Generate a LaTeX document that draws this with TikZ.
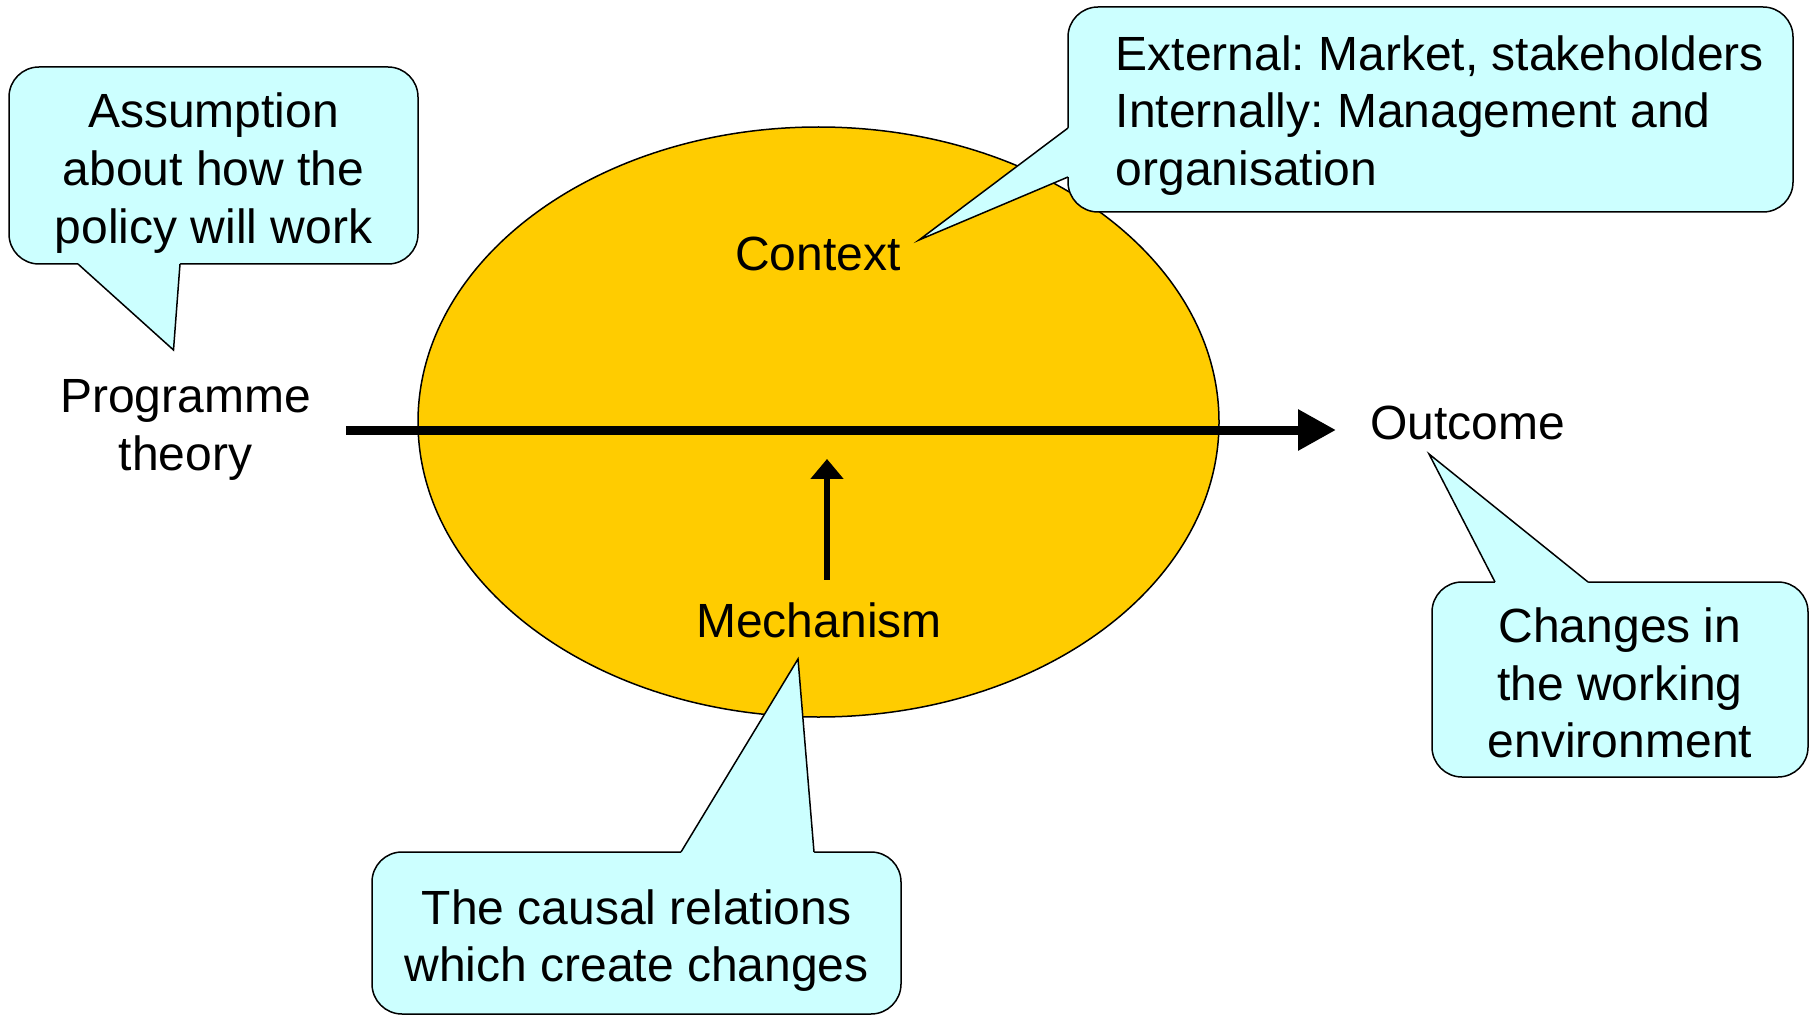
\documentclass[tikz,border=0pt]{standalone}
\usepackage{fontspec}
\setmainfont{Liberation Sans}
\frenchspacing
\usetikzlibrary{positioning}
\usetikzlibrary{calc}
\usetikzlibrary{arrows.meta}
\usetikzlibrary{shapes.geometric}
\definecolor{ctxyellow}{HTML}{FFCC00}
\definecolor{callfill}{HTML}{CCFFFF}
\tikzset{
  lbl/.style={font=\fontsize{24}{28.9}\selectfont, align=center, inner sep=0pt},
  callbox/.style={draw, fill=callfill, line width=0.75pt, rounded corners=15pt, inner sep=0pt},
  flow/.style={line width=4.5pt, -{Triangle[length=19pt,width=19.5pt]}},
  push/.style={line width=3pt, -{Triangle[length=10pt,width=16pt]}}
}
\begin{document}
\begin{tikzpicture}[x=0.5pt, y=-0.5pt]
\useasboundingbox (0,0) rectangle (1814,1016);

\node[ellipse, draw, fill=ctxyellow, line width=0.75pt, minimum width=400.5pt, minimum height=295pt, inner sep=0pt] (cmo) at (818.5,422) {};

\node[callbox, minimum width=204.5pt, minimum height=98.5pt] (asm) at (213.5,165.5) {};
\node[callbox, minimum width=362.5pt, minimum height=102.5pt] (ext) at (1430.5,109.5) {};
\node[callbox, minimum width=264.5pt, minimum height=81pt] (cau) at (636.5,933) {};
\node[callbox, minimum width=188pt, minimum height=97.5pt] (chg) at (1620,679.5) {};

\coordinate (asm-a) at (78,264);   \coordinate (asm-t) at (173.5,350); \coordinate (asm-b) at (180,264);
\coordinate (ext-a) at (1068,128); \coordinate (ext-t) at (919,240);   \coordinate (ext-b) at (1068,177);
\coordinate (cau-a) at (681,852);  \coordinate (cau-t) at (798,659);   \coordinate (cau-b) at (814,852);
\coordinate (chg-a) at (1495,582); \coordinate (chg-t) at (1429,454);  \coordinate (chg-b) at (1588,582);
\foreach \c/\dx/\dy in {asm/0/-3, ext/3/0, cau/0/3, chg/0/3}{
  \fill[callfill] ($(\c-a)+(\dx,\dy)$) -- (\c-a) -- (\c-t) -- (\c-b) -- ($(\c-b)+(\dx,\dy)$) -- cycle;
  \draw[line width=0.75pt] (\c-a) -- (\c-t) -- (\c-b);
}

\node[lbl] (asm-txt) at ([yshift=-3.75pt]asm.center) {Assumption\\about how the\\policy will work};
\node[lbl, align=left, anchor=west] (ext-txt) at ([xshift=24pt,yshift=-3pt]ext.west) {External: Market, stakeholders\\Internally: Management and\\organisation};
\node[lbl] (cau-txt) at ([yshift=-3.75pt]cau.center) {The causal relations\\which create changes};
\node[lbl] (chg-txt) at ([yshift=-1.75pt]chg.center) {Changes in\\the working\\environment};

\node[lbl, inner xsep=17.5pt] (prog) at (185.5,430) {Programme\\theory};
\node[lbl, anchor=base west, inner xsep=17pt] (out) at (1336,439) {Outcome};
\node[lbl] (ctx) at (818,254) {Context};
\node[lbl, inner ysep=11pt] (mech) at (819,620) {Mechanism};

\draw[flow] (prog.east) -- (prog.east -| out.west);
\draw[push] ([xshift=4pt]mech.north) -- ++(0,-121);
\end{tikzpicture}
\end{document}
